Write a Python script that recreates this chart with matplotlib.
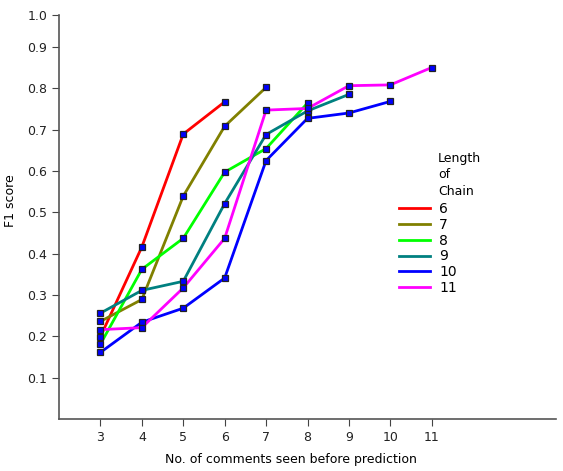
import matplotlib
matplotlib.use("Agg")
import matplotlib.pyplot as plt

comments = [3, 4, 5, 6, 7, 8, 9, 10, 11]
chain_labels = ["6", "7", "8", "9", "10", "11"]
colors = ["#ff0000", "#808000", "#00ff00", "#008080", "#0000ff", "#ff00ff"]

f1_6 = [0.199, 0.416, 0.689, 0.767]
f1_7 = [0.236, 0.289, 0.539, 0.708, 0.802]
f1_8 = [0.181, 0.362, 0.437, 0.597, 0.654, 0.764]
f1_9 = [0.256, 0.311, 0.333, 0.521, 0.688, 0.745, 0.785]
f1_10 = [0.161, 0.234, 0.268, 0.341, 0.625, 0.727, 0.740, 0.768]
f1_11 = [0.216, 0.221, 0.317, 0.437, 0.747, 0.751, 0.806, 0.808, 0.850]
series = [f1_6, f1_7, f1_8, f1_9, f1_10, f1_11]

ytick_labels = ["0.1", "0.2", "0.3", "0.4", "0.5", "0.6", "0.7", "0.8", "0.9", "1.0"]
ytop = 0.977

fig = plt.figure(figsize=(5.63, 4.71), dpi=100)
ax = fig.add_axes([59/563, 1 - 419/471, (556 - 59)/563, (419 - 15)/471])

handles = []
for vals, col, lab in zip(series, colors, chain_labels):
    xs = comments[:len(vals)]
    h, = ax.plot(xs, vals, color=col, lw=2, label=lab, zorder=2)
    ax.plot(xs, vals, ls="none", marker="s", ms=4.8, mfc="#0000ff",
            mec="#222222", mew=0.9, zorder=3)
    handles.append(h)

ax.set_xlim(2, 14)
ax.set_ylim(0, ytop)
ax.set_xticks(comments)
ax.set_xticklabels([str(c) for c in comments])
yt = [0.1 * i for i in range(1, 10)] + [ytop]
ax.set_yticks(yt)
ax.set_yticklabels(ytick_labels)

for s in ["top", "right"]:
    ax.spines[s].set_visible(False)
for s in ["left", "bottom"]:
    ax.spines[s].set_color("#555555")
    ax.spines[s].set_linewidth(1.2)
ax.tick_params(colors="#222222", labelsize=9, length=5, direction="out")
ax.tick_params(axis="both", color="#444444")

ax.set_xlabel("No. of comments seen before prediction", fontsize=9)
ax.xaxis.set_label_coords(0.467, -0.085)
ax.set_ylabel("F1 score", fontsize=9)
ax.yaxis.set_label_coords(-0.085, 0.54)

leg = ax.legend(handles=handles, loc="upper left", frameon=False,
                bbox_to_anchor=((399 - 59)/497, (419 - 202)/404),
                fontsize=10, handlelength=2.2, labelspacing=0.13,
                handletextpad=0.7, borderaxespad=0, borderpad=0)
fig.text(438/563, 1 - 152/471, "Length\nof\nChain", fontsize=9,
         va="top", ha="left", linespacing=1.35)

fig.savefig("out.png", dpi=100)
